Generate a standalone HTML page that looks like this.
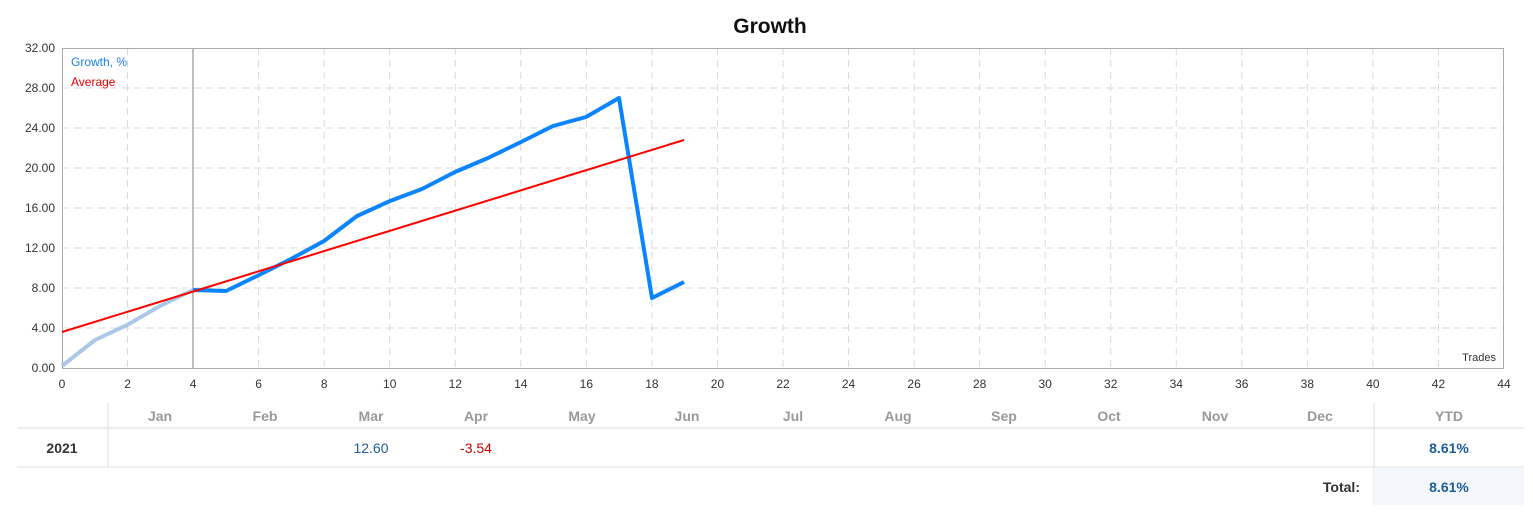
<!DOCTYPE html>
<html><head><meta charset="utf-8"><style>
body{margin:0;background:#fff;}
svg text{font-family:"Liberation Sans","DejaVu Sans",sans-serif;}
</style></head><body>
<svg width="1533" height="519" viewBox="0 0 1533 519" xmlns="http://www.w3.org/2000/svg">
<text x="770" y="33" text-anchor="middle" font-size="21" font-weight="bold" fill="#111">Growth</text>
<g id="grid" stroke="#d9d9d9" stroke-width="1" stroke-dasharray="7,5">
<line x1="62" y1="88" x2="1504" y2="88"/><line x1="62" y1="128" x2="1504" y2="128"/>
<line x1="62" y1="168" x2="1504" y2="168"/><line x1="62" y1="208" x2="1504" y2="208"/>
<line x1="62" y1="248" x2="1504" y2="248"/><line x1="62" y1="288" x2="1504" y2="288"/>
<line x1="62" y1="328" x2="1504" y2="328"/>
</g>
<g stroke="#d9d9d9" stroke-width="1" stroke-dasharray="7,5" id="vg"></g>
<line x1="193" y1="48" x2="193" y2="368" stroke="#aaa" stroke-width="1.5"/>
<rect x="62.5" y="48.5" width="1441" height="320" fill="none" stroke="#aaa"/>
<g font-size="12" fill="#333" text-anchor="end" id="yl">
<text x="55" y="52">32.00</text><text x="55" y="92">28.00</text><text x="55" y="132">24.00</text>
<text x="55" y="172">20.00</text><text x="55" y="212">16.00</text><text x="55" y="252">12.00</text>
<text x="55" y="292">8.00</text><text x="55" y="332">4.00</text><text x="55" y="372">0.00</text>
</g>
<g font-size="12" fill="#333" text-anchor="middle" id="xl"></g>
<text x="1496" y="361" font-size="11" fill="#333" text-anchor="end">Trades</text>
<text x="71" y="66" font-size="12" fill="#1a7ef0">Growth, %</text>
<text x="71" y="86" font-size="12" fill="#e00">Average</text>
<polyline fill="none" stroke="#abc7e6" stroke-width="4" stroke-linejoin="round" points="62,366 95,340 127,325 160,306 193,290"/>
<polyline fill="none" stroke="#0a84ff" stroke-width="4" stroke-linejoin="round" points="193,290 226,291 259,275 291,259 324,241 357,216 390,201 422,189 455,172 488,158 521,142 553,126 586,117 619,98 652,298 684,282"/>
<line x1="62" y1="332" x2="684" y2="140" stroke="#f00" stroke-width="2"/>
<line x1="108" y1="403" x2="108" y2="467" stroke="#ddd"/>
<line x1="1374" y1="403" x2="1374" y2="505" stroke="#ddd"/>
<rect x="1374" y="468" width="150" height="37" fill="#f3f6fa"/>
<line x1="17" y1="428" x2="1524" y2="428" stroke="#ddd"/>
<line x1="17" y1="467" x2="1524" y2="467" stroke="#ddd"/>
<g font-size="14" font-weight="bold" fill="#999" text-anchor="middle">
<text x="160" y="421">Jan</text><text x="265" y="421">Feb</text><text x="371" y="421">Mar</text>
<text x="476" y="421">Apr</text><text x="582" y="421">May</text><text x="687" y="421">Jun</text>
<text x="793" y="421">Jul</text><text x="898" y="421">Aug</text><text x="1004" y="421">Sep</text>
<text x="1109" y="421">Oct</text><text x="1215" y="421">Nov</text><text x="1320" y="421">Dec</text>
<text x="1449" y="421">YTD</text>
</g>
<text x="62" y="453" font-size="14" font-weight="bold" fill="#333" text-anchor="middle">2021</text>
<text x="371" y="453" font-size="14" fill="#1d5d99" text-anchor="middle">12.60</text>
<text x="476" y="453" font-size="14" fill="#c00" text-anchor="middle">-3.54</text>
<text x="1449" y="453" font-size="14" font-weight="bold" fill="#1d5d99" text-anchor="middle">8.61%</text>
<text x="1360" y="492" font-size="14" font-weight="bold" fill="#333" text-anchor="end">Total:</text>
<text x="1449" y="492" font-size="14" font-weight="bold" fill="#1d5d99" text-anchor="middle">8.61%</text>
</svg>
<script>
var vg=document.getElementById('vg'),xl=document.getElementById('xl'),ns='http://www.w3.org/2000/svg';
for(var i=0;i<=44;i+=2){var x=62+i*1442/44;
if(i>0&&i<44&&i!=4){var l=document.createElementNS(ns,'line');l.setAttribute('x1',x);l.setAttribute('x2',x);l.setAttribute('y1',48);l.setAttribute('y2',368);vg.appendChild(l);}
var t=document.createElementNS(ns,'text');t.setAttribute('x',x);t.setAttribute('y',388);t.textContent=i;xl.appendChild(t);}
</script>
</body></html>
